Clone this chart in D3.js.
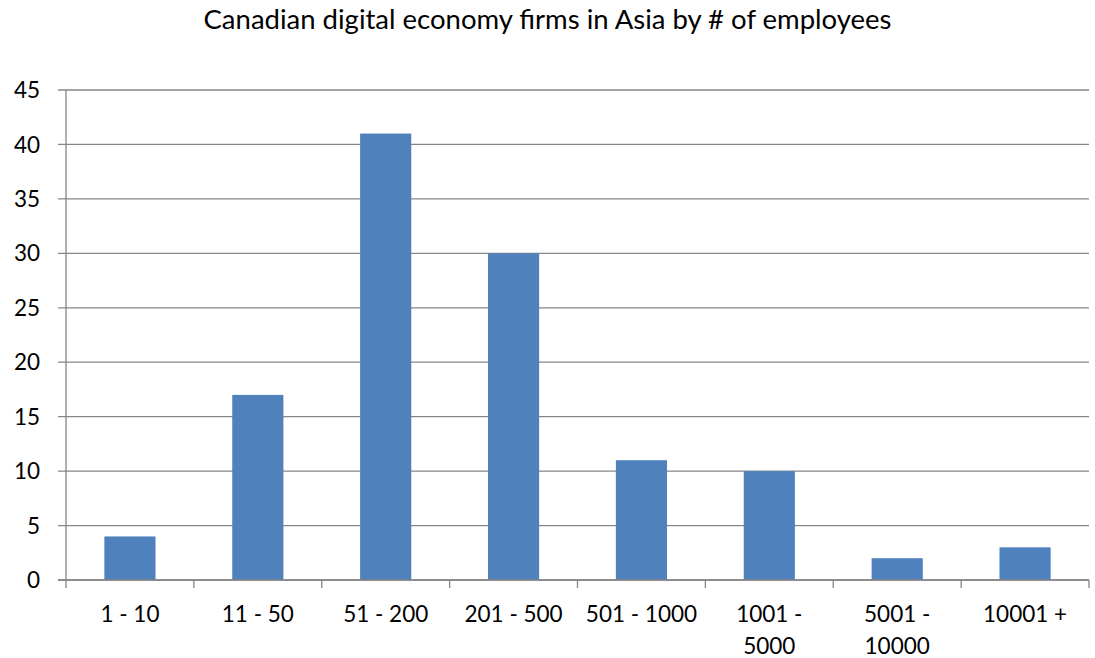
<!DOCTYPE html>
<html lang="en">
<head>
    <meta charset="UTF-8">
    <title>Canadian digital economy firms in Asia</title>
    <style>
        body { margin: 0; background: #fff; }
        text { font-family: Lato, "Open Sans", sans-serif; fill: #000; }
    </style>
</head>
<body>
<script src="https://d3js.org/d3.v7.min.js"></script>
<script>

    let categories = [["1 - 10"], ["11 - 50"], ["51 - 200"], ["201 - 500"], ["501 - 1000"],
        ["1001 -", "5000"], ["5001 -", "10000"], ["10001 +"]];
    let values = [4, 17, 41, 30, 11, 10, 2, 3];
    let yTicks = [0, 5, 10, 15, 20, 25, 30, 35, 40, 45];
    let title = "Canadian digital economy firms in Asia by # of employees";

    let w = 1095, h = 658;
    let inner = {top: 90, right: 6, bottom: 78, left: 66};

    let svg = d3.select("body")
        .append("svg")
        .attr("width", w)
        .attr("height", h);

    // 比例尺
    let xScale = d3.scaleBand()
        .domain(d3.range(categories.length))
        .range([inner.left, w - inner.right])
        .paddingInner(0.6)
        .paddingOuter(0.3);

    let yScale = d3.scaleLinear()
        .domain([0, 45])
        .range([h - inner.bottom, inner.top]);

    let gridColor = "#868686";

    // 网格线
    svg.append("g")
        .selectAll("line")
        .data(yTicks)
        .enter()
        .append("line")
        .attr("x1", inner.left - 8)
        .attr("x2", w - inner.right)
        .attr("y1", d => yScale(d))
        .attr("y2", d => yScale(d))
        .attr("stroke", gridColor)
        .attr("stroke-width", 1.3);

    // y 轴标签
    svg.append("g")
        .selectAll("text")
        .data(yTicks)
        .enter()
        .append("text")
        .attr("x", 40)
        .attr("y", d => yScale(d))
        .attr("dy", "0.36em")
        .attr("text-anchor", "end")
        .style("font-size", "22.5px")
        .text(d => d);

    // 柱子
    svg.append("g")
        .selectAll("rect")
        .data(values)
        .enter()
        .append("rect")
        .attr("x", (d, i) => xScale(i))
        .attr("y", d => yScale(d))
        .attr("width", xScale.bandwidth())
        .attr("height", d => yScale(0) - yScale(d))
        .attr("fill", "#4F81BD");

    // 坐标轴
    let step = xScale.step();
    svg.append("line")
        .attr("x1", inner.left).attr("x2", inner.left)
        .attr("y1", yScale(45)).attr("y2", yScale(0) + 8)
        .attr("stroke", gridColor).attr("stroke-width", 1.3);
    svg.append("line")
        .attr("x1", inner.left - 8).attr("x2", w - inner.right)
        .attr("y1", yScale(0)).attr("y2", yScale(0))
        .attr("stroke", gridColor).attr("stroke-width", 1.3);

    svg.append("g")
        .selectAll("line")
        .data(d3.range(1, categories.length + 1))
        .enter()
        .append("line")
        .attr("x1", i => inner.left + i * step)
        .attr("x2", i => inner.left + i * step)
        .attr("y1", yScale(0))
        .attr("y2", yScale(0) + 8)
        .attr("stroke", gridColor)
        .attr("stroke-width", 1.3);

    // x 轴标签
    let labels = svg.append("g")
        .selectAll("text")
        .data(categories)
        .enter()
        .append("text")
        .attr("text-anchor", "middle")
        .style("font-size", "22.5px")
        .attr("transform", (d, i) => "translate(" + (xScale(i) + xScale.bandwidth() / 2) + "," + 622 + ")");

    labels.selectAll("tspan")
        .data(d => d)
        .enter()
        .append("tspan")
        .attr("x", 0)
        .attr("y", (d, j) => j * 32)
        .text(d => d);

    // 标题
    svg.append("text")
        .attr("x", w / 2)
        .attr("y", 29)
        .attr("text-anchor", "middle")
        .style("font-size", "27.5px")
        .text(title);

</script>
</body>
</html>
